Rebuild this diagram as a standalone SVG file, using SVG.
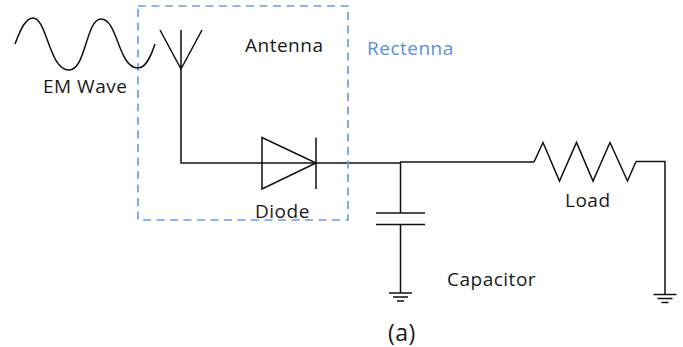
<svg xmlns="http://www.w3.org/2000/svg" width="683" height="347" viewBox="0 0 683 347">
<style>
.w{fill:none;stroke:#111;stroke-width:1.5;stroke-linejoin:miter}
.t{font-family:"Open Sans","Noto Sans",sans-serif;font-size:19px;letter-spacing:.5px;fill:#1a1a1a}
</style>
<defs>
<g id="gnd"><path class="w" d="M-11.500 0H11.500M-7.500 4H7.500M-3.500 8H3.500"/></g>
</defs>
<rect width="683" height="347" fill="#fff"/>
<g id="connectors">
<path class="w" d="M181 69V163H400"/>
<path class="w" d="M400 162H534"/>
<path class="w" d="M400.500 162V213M400.500 225V293"/>
<path class="w" d="M636 161.500H665V295"/>
</g>
<g id="rectenna"><rect x="138" y="6" width="210" height="214" fill="none" stroke="#6f9fdc" stroke-width="1.700" stroke-dasharray="8 5.500"/>
<text x="367" y="55" class="t" style="fill:#5b8fd6">Rectenna</text></g>
<g id="em-wave"><path class="w" d="M15 44C21 28 26 18 33 18C47 18 49 70 69 70C86 70 86 19 101 19C118 19 118 68 138 68C146 68 151 56 155 44"/>
<text x="43" y="93" class="t">EM Wave</text></g>
<g id="antenna"><path class="w" d="M160 30L181 69L202 30M181 30V69"/>
<text x="245" y="52" class="t">Antenna</text></g>
<g id="diode"><path class="w" d="M262 137.500V189L316 163ZM316 137.500V189"/>
<text x="255" y="218" class="t">Diode</text></g>
<g id="capacitor"><path class="w" d="M376 213H425M376 224.500H425"/>
<use href="#gnd" x="400.500" y="293"/>
<text x="447" y="286" class="t">Capacitor</text></g>
<g id="load"><path class="w" d="M534 162L543 142.500L559.500 181L576.500 142.500L593 181L610 142.500L627.500 181L636 161.500"/>
<text x="565" y="207" class="t">Load</text>
<use href="#gnd" x="665" y="294.500"/></g>
<text x="388" y="341" class="t" style="font-size:23px">(a)</text>
</svg>
